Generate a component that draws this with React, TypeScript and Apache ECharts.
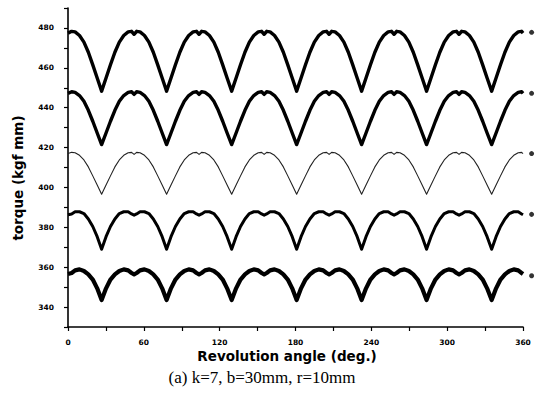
import React, { useEffect, useRef } from "react";
import * as echarts from "echarts";

const angles = [
  0, 2.9, 5.6, 9.1, 12.6, 16.1, 19.6, 23.1,
  26.6, 30.1, 33.6, 37.1, 40.6, 44.1, 47.6, 50.3, 52.3, 54.3, 57.0, 60.5, 64.0, 67.5, 71.0, 74.5,
  78.0, 81.5, 85.0, 88.5, 92.0, 95.5, 99.0, 101.7, 103.7, 105.7, 108.4, 111.9, 115.4, 118.9, 122.4, 125.9,
  129.5, 133.0, 136.5, 140.0, 143.5, 147.0, 150.5, 153.2, 155.2, 157.2, 159.9, 163.4, 166.9, 170.4, 173.9, 177.4,
  180.9, 184.4, 187.9, 191.4, 194.9, 198.4, 201.9, 204.6, 206.6, 208.6, 211.3, 214.8, 218.3, 221.8, 225.3, 228.8,
  232.3, 235.8, 239.3, 242.8, 246.3, 249.8, 253.3, 256.0, 258.0, 260.0, 262.7, 266.2, 269.7, 273.2, 276.7, 280.2,
  283.7, 287.2, 290.7, 294.2, 297.7, 301.2, 304.7, 307.4, 309.4, 311.4, 314.1, 317.6, 321.1, 324.6, 328.1, 331.6,
  335.2, 338.7, 342.2, 345.7, 349.2, 352.7, 356.2, 358.9, 360,
];

const torque1 = [
  477.4, 478.3, 478.0, 476.2, 472.9, 467.8, 461.5, 454.9,
  448.3, 454.9, 461.5, 467.8, 472.9, 476.2, 478.0, 478.3, 476.8, 478.3, 478.0, 476.2, 472.9, 467.8, 461.5, 454.9,
  448.3, 454.9, 461.5, 467.8, 472.9, 476.2, 478.0, 478.3, 476.8, 478.3, 478.0, 476.2, 472.9, 467.8, 461.5, 454.9,
  448.3, 454.9, 461.5, 467.8, 472.9, 476.2, 478.0, 478.3, 476.8, 478.3, 478.0, 476.2, 472.9, 467.8, 461.5, 454.9,
  448.3, 454.9, 461.5, 467.8, 472.9, 476.2, 478.0, 478.3, 476.8, 478.3, 478.0, 476.2, 472.9, 467.8, 461.5, 454.9,
  448.3, 454.9, 461.5, 467.8, 472.9, 476.2, 478.0, 478.3, 476.8, 478.3, 478.0, 476.2, 472.9, 467.8, 461.5, 454.9,
  448.3, 454.9, 461.5, 467.8, 472.9, 476.2, 478.0, 478.3, 476.8, 478.3, 478.0, 476.2, 472.9, 467.8, 461.5, 454.9,
  448.3, 454.9, 461.5, 467.8, 472.9, 476.2, 478.0, 478.3, 477.4,
];

const torque2 = [
  447.2, 448.0, 447.7, 446.1, 443.2, 438.7, 433.2, 427.3,
  421.5, 427.3, 433.2, 438.7, 443.2, 446.1, 447.7, 448.0, 446.7, 448.0, 447.7, 446.1, 443.2, 438.7, 433.2, 427.3,
  421.5, 427.3, 433.2, 438.7, 443.2, 446.1, 447.7, 448.0, 446.7, 448.0, 447.7, 446.1, 443.2, 438.7, 433.2, 427.3,
  421.5, 427.3, 433.2, 438.7, 443.2, 446.1, 447.7, 448.0, 446.7, 448.0, 447.7, 446.1, 443.2, 438.7, 433.2, 427.3,
  421.5, 427.3, 433.2, 438.7, 443.2, 446.1, 447.7, 448.0, 446.7, 448.0, 447.7, 446.1, 443.2, 438.7, 433.2, 427.3,
  421.5, 427.3, 433.2, 438.7, 443.2, 446.1, 447.7, 448.0, 446.7, 448.0, 447.7, 446.1, 443.2, 438.7, 433.2, 427.3,
  421.5, 427.3, 433.2, 438.7, 443.2, 446.1, 447.7, 448.0, 446.7, 448.0, 447.7, 446.1, 443.2, 438.7, 433.2, 427.3,
  421.5, 427.3, 433.2, 438.7, 443.2, 446.1, 447.7, 448.0, 447.2,
];

const torque3 = [
  417.0, 417.6, 417.4, 416.1, 413.8, 410.3, 405.8, 401.2,
  396.6, 401.2, 405.8, 410.3, 413.8, 416.1, 417.4, 417.6, 416.6, 417.6, 417.4, 416.1, 413.8, 410.3, 405.8, 401.2,
  396.6, 401.2, 405.8, 410.3, 413.8, 416.1, 417.4, 417.6, 416.6, 417.6, 417.4, 416.1, 413.8, 410.3, 405.8, 401.2,
  396.6, 401.2, 405.8, 410.3, 413.8, 416.1, 417.4, 417.6, 416.6, 417.6, 417.4, 416.1, 413.8, 410.3, 405.8, 401.2,
  396.6, 401.2, 405.8, 410.3, 413.8, 416.1, 417.4, 417.6, 416.6, 417.6, 417.4, 416.1, 413.8, 410.3, 405.8, 401.2,
  396.6, 401.2, 405.8, 410.3, 413.8, 416.1, 417.4, 417.6, 416.6, 417.6, 417.4, 416.1, 413.8, 410.3, 405.8, 401.2,
  396.6, 401.2, 405.8, 410.3, 413.8, 416.1, 417.4, 417.6, 416.6, 417.6, 417.4, 416.1, 413.8, 410.3, 405.8, 401.2,
  396.6, 401.2, 405.8, 410.3, 413.8, 416.1, 417.4, 417.6, 417.0,
];

const torque4 = [
  386.3, 386.7, 387.8, 387.8, 386.9, 384.2, 380.4, 375.3,
  369.0, 375.3, 380.4, 384.2, 386.9, 387.8, 387.8, 386.7, 386.1, 386.7, 387.8, 387.8, 386.9, 384.2, 380.4, 375.3,
  369.0, 375.3, 380.4, 384.2, 386.9, 387.8, 387.8, 386.7, 386.1, 386.7, 387.8, 387.8, 386.9, 384.2, 380.4, 375.3,
  369.0, 375.3, 380.4, 384.2, 386.9, 387.8, 387.8, 386.7, 386.1, 386.7, 387.8, 387.8, 386.9, 384.2, 380.4, 375.3,
  369.0, 375.3, 380.4, 384.2, 386.9, 387.8, 387.8, 386.7, 386.1, 386.7, 387.8, 387.8, 386.9, 384.2, 380.4, 375.3,
  369.0, 375.3, 380.4, 384.2, 386.9, 387.8, 387.8, 386.7, 386.1, 386.7, 387.8, 387.8, 386.9, 384.2, 380.4, 375.3,
  369.0, 375.3, 380.4, 384.2, 386.9, 387.8, 387.8, 386.7, 386.1, 386.7, 387.8, 387.8, 386.9, 384.2, 380.4, 375.3,
  369.0, 375.3, 380.4, 384.2, 386.9, 387.8, 387.8, 386.7, 386.3,
];

const torque5 = [
  356.6, 357.1, 358.4, 358.9, 358.1, 356.4, 353.8, 349.4,
  343.5, 349.4, 353.8, 356.4, 358.1, 358.9, 358.4, 357.1, 356.4, 357.1, 358.4, 358.9, 358.1, 356.4, 353.8, 349.4,
  343.5, 349.4, 353.8, 356.4, 358.1, 358.9, 358.4, 357.1, 356.4, 357.1, 358.4, 358.9, 358.1, 356.4, 353.8, 349.4,
  343.5, 349.4, 353.8, 356.4, 358.1, 358.9, 358.4, 357.1, 356.4, 357.1, 358.4, 358.9, 358.1, 356.4, 353.8, 349.4,
  343.5, 349.4, 353.8, 356.4, 358.1, 358.9, 358.4, 357.1, 356.4, 357.1, 358.4, 358.9, 358.1, 356.4, 353.8, 349.4,
  343.5, 349.4, 353.8, 356.4, 358.1, 358.9, 358.4, 357.1, 356.4, 357.1, 358.4, 358.9, 358.1, 356.4, 353.8, 349.4,
  343.5, 349.4, 353.8, 356.4, 358.1, 358.9, 358.4, 357.1, 356.4, 357.1, 358.4, 358.9, 358.1, 356.4, 353.8, 349.4,
  343.5, 349.4, 353.8, 356.4, 358.1, 358.9, 358.4, 357.1, 356.6,
];

// small end-of-curve markers drawn just right of the plot
const markerAngle = 366.8;
const markerValues = [477.8, 447.2, 417.0, 386.5, 355.7];

const xTicks = [0, 60, 120, 180, 240, 300, 360];
const yTicks = [340, 360, 380, 400, 420, 440, 460, 480];

const xName = "Revolution angle (deg.)";
const yName = "torque (kgf mm)";
const caption = "(a) k=7, b=30mm, r=10mm";

const seriesDefs = [
  { name: "curve1", values: torque1, width: 3.4, color: "#000" },
  { name: "curve2", values: torque2, width: 3.4, color: "#000" },
  { name: "curve3", values: torque3, width: 1.1, color: "#222" },
  { name: "curve4", values: torque4, width: 3, color: "#000" },
  { name: "curve5", values: torque5, width: 4.2, color: "#000" },
];

export default function App() {
  const ref = useRef<HTMLDivElement>(null);
  useEffect(() => {
    if (!ref.current) return;
    const chart = echarts.init(ref.current, null, { renderer: "svg" });
    const tickFont = {
      fontFamily: "DejaVu Sans",
      fontWeight: "bold" as const,
      fontSize: 7.5,
      color: "#000",
    };
    chart.setOption({
      animation: false,
      backgroundColor: "#fff",
      grid: { left: 68, right: 12, top: 8, bottom: 76 },
      xAxis: {
        type: "value",
        min: 0,
        max: 360,
        interval: 30,
        axisLine: { lineStyle: { color: "#000", width: 1.6 } },
        axisTick: { length: 4, lineStyle: { color: "#000", width: 1.2 } },
        axisLabel: {
          ...tickFont,
          margin: 11,
          formatter: (v: number) => (xTicks.includes(v) ? String(v) : ""),
        },
        splitLine: { show: false },
      },
      yAxis: {
        type: "value",
        min: 330,
        max: 490,
        interval: 10,
        axisLine: { show: true, lineStyle: { color: "#000", width: 1.6 } },
        axisTick: { show: true, length: 4, lineStyle: { color: "#000", width: 1.2 } },
        axisLabel: {
          ...tickFont,
          margin: 14,
          formatter: (v: number) => (yTicks.includes(v) ? String(v) : ""),
        },
        splitLine: { show: false },
      },
      graphic: [
        {
          type: "text",
          x: 287,
          y: 356,
          style: {
            text: xName,
            fontFamily: "DejaVu Sans",
            fontWeight: "bold",
            fontSize: 13.5,
            fill: "#000",
            textAlign: "center",
            textVerticalAlign: "middle",
          },
        },
        {
          type: "text",
          x: 18,
          y: 178,
          rotation: Math.PI / 2,
          style: {
            text: yName,
            fontFamily: "DejaVu Sans",
            fontWeight: "bold",
            fontSize: 13.5,
            fill: "#000",
            textAlign: "center",
            textVerticalAlign: "middle",
          },
        },
        {
          type: "text",
          x: 262,
          y: 377,
          style: {
            text: caption,
            fontFamily: "Liberation Serif",
            fontSize: 17,
            fill: "#000",
            textAlign: "center",
            textVerticalAlign: "middle",
          },
        },
      ],
      series: [
        ...seriesDefs.map((s) => ({
          name: s.name,
          type: "line",
          data: angles.map((a, i) => [a, s.values[i]]),
          showSymbol: false,
          symbol: "none",
          lineStyle: { color: s.color, width: s.width, join: "round" },
          z: 3,
        })),
        {
          name: "markers",
          type: "scatter",
          data: markerValues.map((v) => [markerAngle, v]),
          symbol: "circle",
          symbolSize: 5,
          itemStyle: { color: "#000" },
          clip: false,
        },
      ],
    });
    return () => chart.dispose();
  }, []);
  return (
    <div
      ref={ref}
      style={{ position: "fixed", left: 0, top: 0, width: 535, height: 403, background: "#fff" }}
    />
  );
}
